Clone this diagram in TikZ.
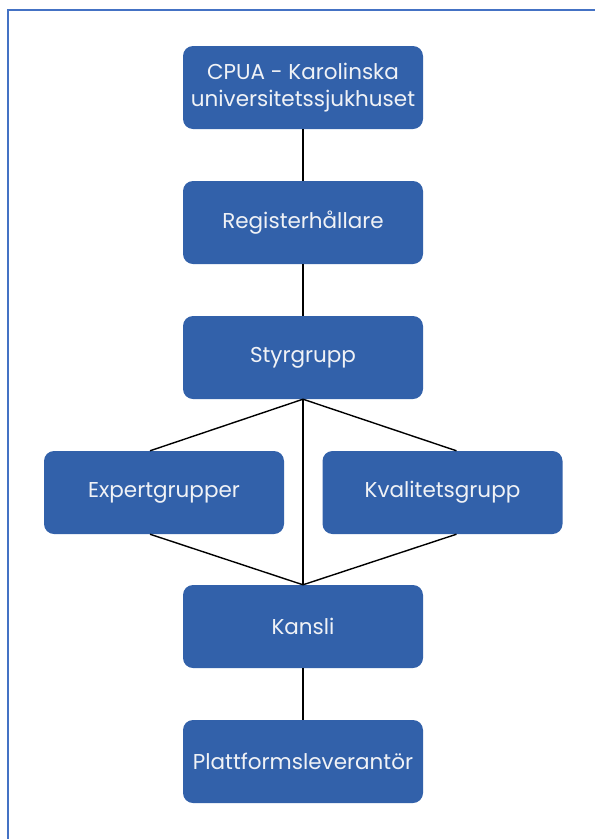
\documentclass[tikz,border=0pt]{standalone}
\usepackage{fontspec}
\setmainfont{Poppins}
\definecolor{boxblue}{RGB}{50,97,170}
\definecolor{frameblue}{RGB}{68,114,196}
\definecolor{textwhite}{RGB}{240,242,246}
\begin{document}
\begin{tikzpicture}[x=1pt,y=-1pt,
  orgbox/.style={fill=boxblue, rounded corners=10pt, minimum width=240pt, minimum height=83pt,
    text=textwhite, align=center, font=\fontsize{21.5}{27.5}\selectfont, inner sep=0pt},
  link/.style={line width=1.4pt, black}]
\useasboundingbox (0,0) rectangle (595,839);
\draw[frameblue, line width=2pt] (7.5,839) -- (7.5,9.5) -- (595,9.5);
\node[orgbox] (cpua) at (303,87.5) {CPUA - Karolinska\\universitetssjukhuset};
\node[orgbox] (reg) at (303,222.5) {Registerhållare};
\node[orgbox] (sty) at (303,357.5) {Styrgrupp};
\node[orgbox] (exp) at (164,492.5) {Expertgrupper};
\node[orgbox] (kva) at (442.5,492.5) {Kvalitetsgrupp};
\node[orgbox] (kan) at (303,626.5) {Kansli};
\node[orgbox] (pla) at (303,761.5) {Plattformsleverantör};
\coordinate (expT) at ([xshift=-14pt]exp.north);
\coordinate (expB) at ([xshift=-14pt]exp.south);
\coordinate (kvaT) at ([xshift=14pt]kva.north);
\coordinate (kvaB) at ([xshift=14pt]kva.south);
\draw[link] (cpua) -- (reg);
\draw[link] (reg) -- (sty);
\draw[link] (sty.south) -- (kan.north);
\draw[link] (sty.south) -- (expT);
\draw[link] (sty.south) -- (kvaT);
\draw[link] (expB) -- (kan.north);
\draw[link] (kvaB) -- (kan.north);
\draw[link] (kan) -- (pla);
\end{tikzpicture}
\end{document}
